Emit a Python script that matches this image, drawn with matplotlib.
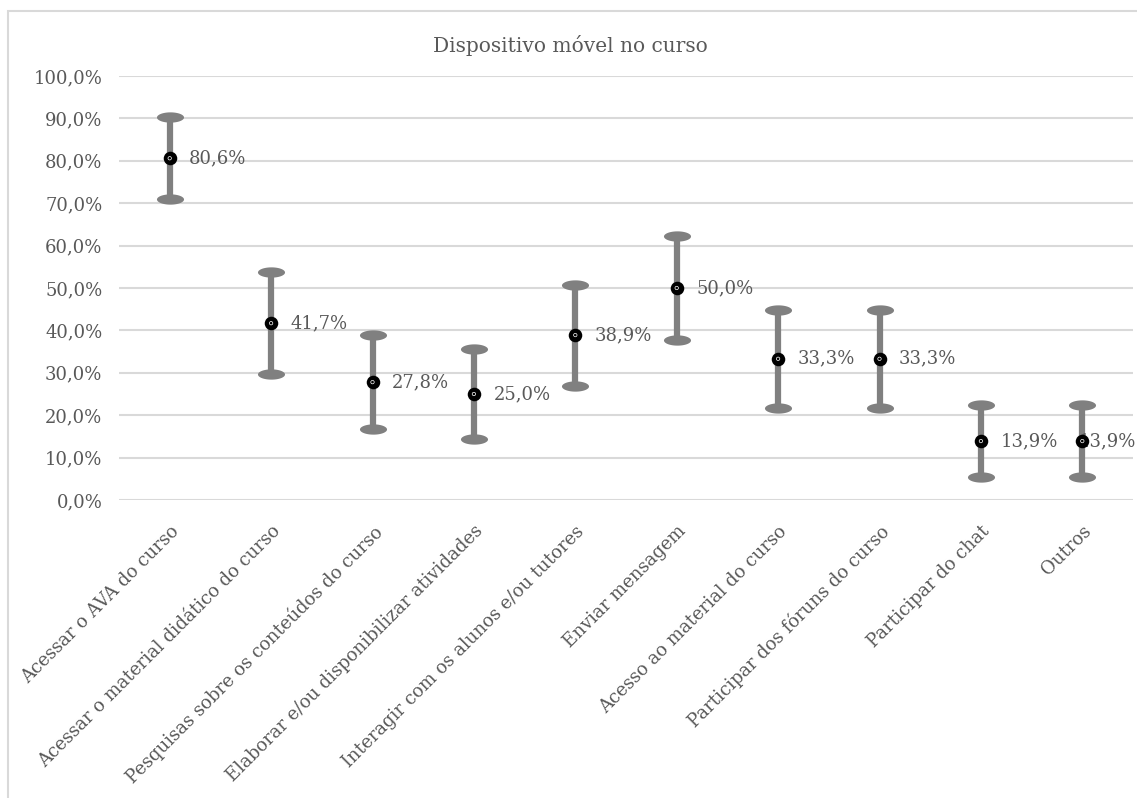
import numpy as np
import matplotlib
matplotlib.use("Agg")
import matplotlib.pyplot as plt
from matplotlib.path import Path
from matplotlib.patches import Rectangle

categories = [
    "Acessar o AVA do curso",
    "Acessar o material didático do curso",
    "Pesquisas sobre os conteúdos do curso",
    "Elaborar e/ou disponibilizar atividades",
    "Interagir com os alunos e/ou tutores",
    "Enviar mensagem",
    "Acesso ao material do curso",
    "Participar dos fóruns do curso",
    "Participar do chat",
    "Outros",
]
values = [80.6, 41.7, 27.8, 25.0, 38.9, 50.0, 33.3, 33.3, 13.9, 13.9]
errors = [9.7, 12.1, 11.0, 10.6, 11.9, 12.2, 11.5, 11.5, 8.5, 8.5]
yticks = [0, 10, 20, 30, 40, 50, 60, 70, 80, 90, 100]
title = "Dispositivo móvel no curso"

W, H = 1137, 798
fig = plt.figure(figsize=(W / 100, H / 100), dpi=100)
ax = fig.add_axes([119 / W, 1 - 500 / H, (1133 - 119) / W, (500 - 76) / H])

text_color = "#595959"
err_color = "#808080"
font = ["DejaVu Serif"]

x = np.arange(len(categories))

# ellipse marker for caps
t = np.linspace(0, 2 * np.pi, 60)
ell = Path(np.column_stack([np.cos(t), 0.38 * np.sin(t)]), closed=True)

lo = [v - e for v, e in zip(values, errors)]
hi = [v + e for v, e in zip(values, errors)]
ax.vlines(x, lo, hi, color=err_color, linewidth=4.5, zorder=3)
ax.scatter(x, lo, marker=ell, s=380, color=err_color, zorder=3, linewidths=0)
ax.scatter(x, hi, marker=ell, s=380, color=err_color, zorder=3, linewidths=0)
ax.scatter(x, values, marker="o", s=95, color="black", zorder=5, linewidths=0)
ax.scatter(x, values, marker="o", s=6, facecolor="none", edgecolor="white", linewidths=0.5, zorder=6)

n = len(values)
for i, (xi, v) in enumerate(zip(x, values)):
    label = f"{v:.1f}%".replace(".", ",")
    if i == n - 1:
        ax.annotate(label, (xi, v), xytext=(1136, 0), xycoords="data",
                    textcoords=("figure pixels", "offset points"),
                    ha="right", va="center", fontsize=13, color=text_color,
                    family=font, zorder=4)
    else:
        ax.annotate(label, (xi, v), xytext=(14, 0),
                    textcoords="offset points", ha="left", va="center",
                    fontsize=13, color=text_color, family=font, zorder=6)

ax.set_xlim(-0.5, len(categories) - 0.5)
ax.set_ylim(0, 100)
ax.set_yticks(yticks)
ax.set_yticklabels([f"{v:.1f}%".replace(".", ",") for v in yticks],
                   fontsize=13, color=text_color, family=font)
ax.set_xticks(x)
ax.set_xticklabels(categories, rotation=45, ha="right", va="top",
                   rotation_mode="anchor", fontsize=13, color=text_color, family=font)
ax.tick_params(axis="both", length=0)
ax.tick_params(axis="y", pad=12)
ax.tick_params(axis="x", pad=16)
ax.grid(axis="y", color="#d9d9d9", linewidth=1.5)
ax.set_axisbelow(True)
for s in ax.spines.values():
    s.set_visible(False)

fig.text(570 / W, 1 - 46 / H, title, ha="center", va="center",
         fontsize=14.5, color=text_color, family=font)

fig.patches.append(Rectangle((8 / W, -0.1), 1.2, 1 - 11 / H + 0.1, transform=fig.transFigure,
                             fill=False, edgecolor="#d9d9d9", linewidth=1.5))

fig.savefig("out.png", dpi=100)
